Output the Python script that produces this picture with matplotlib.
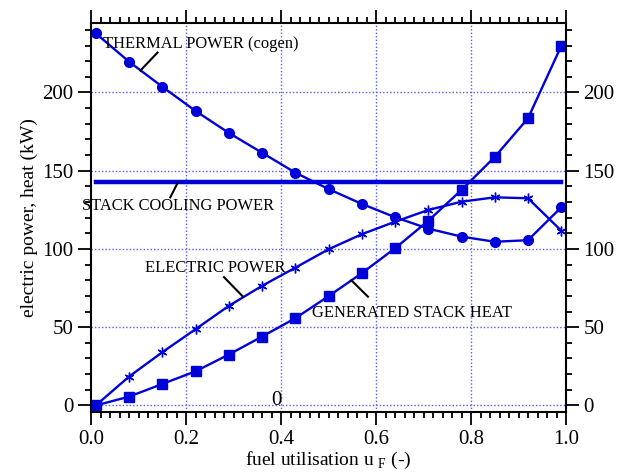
import matplotlib.pyplot as plt
from matplotlib.ticker import MultipleLocator

plt.rcParams['font.family'] = ['Liberation Serif', 'DejaVu Serif']
plt.rcParams['mathtext.fontset'] = 'custom'
plt.rcParams['mathtext.rm'] = 'Liberation Serif'

# fuel utilisation steps
u_f = [0.01, 0.08, 0.15, 0.22, 0.29, 0.36, 0.43, 0.50, 0.57, 0.64, 0.71, 0.78, 0.85, 0.92, 0.99]

thermal_power = [237.8, 219.7, 203.7, 188.2, 174.2, 161.5, 148.8, 138.3, 128.8, 120.3, 113.0, 107.9, 104.6, 105.6, 126.6]
electric_power = [0.0, 18.4, 34.0, 48.7, 63.6, 76.4, 88.0, 99.8, 109.4, 117.4, 124.9, 130.2, 133.0, 132.4, 111.7]
stack_heat = [0.0, 5.6, 13.7, 21.8, 32.5, 44.0, 55.7, 69.8, 84.5, 100.4, 118.0, 137.7, 158.8, 183.5, 229.7]
cooling_power = [143.0] * len(u_f)

blue = '#0000d8'
grid_blue = '#5a5aff'

fig = plt.figure(figsize=(6.21, 4.75), dpi=100)
ax = fig.add_axes([91 / 621, (475 - 411.7) / 475, 475 / 621, (411.7 - 23) / 475])

ax.plot(u_f, thermal_power, color=blue, lw=1.7, marker='o', ms=7)
ax.plot(u_f, electric_power, color=blue, lw=1.7, marker=(6, 2, 0), ms=7, mew=1.0)
ax.plot(u_f, stack_heat, color=blue, lw=1.7, marker='s', ms=7)
ax.plot(u_f, cooling_power, color=blue, lw=3.2)

ax.set_xlim(0, 1)
ax.set_ylim(-4, 244.4)

ax.xaxis.set_major_locator(MultipleLocator(0.2))
ax.xaxis.set_minor_locator(MultipleLocator(0.02))
ax.yaxis.set_major_locator(MultipleLocator(50))
ax.yaxis.set_minor_locator(MultipleLocator(10))
ax.xaxis.set_major_formatter(plt.FuncFormatter(lambda v, p: '%.1f' % v))

ax.tick_params(which='both', direction='out', top=True, right=True,
               labelright=True, labelsize=15, width=1.3, color='black', pad=3)
ax.tick_params(which='major', length=9.5)
ax.tick_params(which='minor', length=4.5)
ax.tick_params(axis='x', pad=4)
for s in ax.spines.values():
    s.set_linewidth(1.5)

for gx in [0.2, 0.4, 0.6, 0.8]:
    ax.axvline(gx, color=grid_blue, lw=1.0, ls=(0, (1, 1.5)), zorder=0)
for gy in [0, 50, 100, 150, 200]:
    ax.axhline(gy, color=grid_blue, lw=1.0, ls=(0, (1, 1.5)), zorder=0)

ax.set_xlabel(r'fuel utilisation u $_{\mathrm{F}}$ (-)', fontsize=14, labelpad=0)
ax.set_ylabel('electric power, heat (kW)', fontsize=14, labelpad=3)

# curve labels with leader lines
labels = [
    ('THERMAL POWER (cogen)', 0.025, 231, (0.14, 225.5), (0.104, 214)),
    ('STACK COOLING POWER', -0.02, 127.5, (0.182, 142), (0.167, 133)),
    ('ELECTRIC POWER', 0.113, 88, (0.28, 82), (0.32, 69.5)),
    ('GENERATED STACK HEAT', 0.465, 58.9, (0.548, 80), (0.583, 69.5)),
]
for txt, tx, ty, p0, p1 in labels:
    ax.text(tx, ty, txt, fontsize=11.9, va='center', ha='left')
    ax.plot([p0[0], p1[0]], [p0[1], p1[1]], color='black', lw=1.5)

ax.text(0.39, 3, '0', fontsize=15, ha='center', va='center')

fig.savefig('out.png', dpi=100)
